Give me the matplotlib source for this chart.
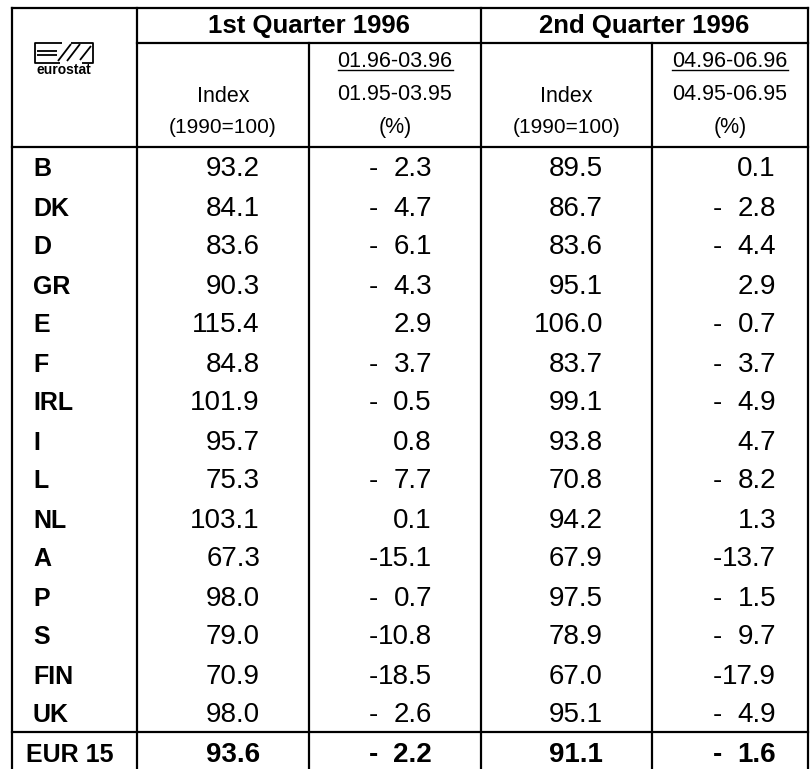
import matplotlib
matplotlib.use('Agg')
import matplotlib.pyplot as plt

plt.rcParams['font.family'] = ['Liberation Sans', 'DejaVu Sans']

# data
countries = ['B', 'DK', 'D', 'GR', 'E', 'F', 'IRL', 'I', 'L', 'NL', 'A', 'P', 'S', 'FIN', 'UK', 'EUR 15']
q1_index = [93.2, 84.1, 83.6, 90.3, 115.4, 84.8, 101.9, 95.7, 75.3, 103.1, 67.3, 98.0, 79.0, 70.9, 98.0, 93.6]
q1_change = [-2.3, -4.7, -6.1, -4.3, 2.9, -3.7, -0.5, 0.8, -7.7, 0.1, -15.1, -0.7, -10.8, -18.5, -2.6, -2.2]
q2_index = [89.5, 86.7, 83.6, 95.1, 106.0, 83.7, 99.1, 93.8, 70.8, 94.2, 67.9, 97.5, 78.9, 67.0, 95.1, 91.1]
q2_change = [0.1, -2.8, -4.4, 2.9, -0.7, -3.7, -4.9, 4.7, -8.2, 1.3, -13.7, -1.5, -9.7, -17.9, -4.9, -1.6]
quarters = ['1st Quarter 1996', '2nd Quarter 1996']
periods = [('01.96-03.96', '01.95-03.95'), ('04.96-06.96', '04.95-06.95')]

# layout (pixel units)
W, H = 811, 769
xs = [12, 137, 309, 481, 652, 808]
y_top, y_q, y_head, row_h = 8, 43, 147, 39
right_anchor = [260, 432, 603, 776]
col_center = [(xs[i + 1] + xs[i + 2]) / 2 for i in range(4)]
lw = 1.6

fig = plt.figure(figsize=(W / 100, H / 100), dpi=100)
ax = fig.add_axes([0, 0, 1, 1])
ax.set_xlim(0, W)
ax.set_ylim(H, 0)
ax.axis('off')

# grid lines
bottom = y_head + row_h * len(countries) + 5
ax.plot([xs[0], xs[-1]], [y_top, y_top], color='black', lw=lw)
ax.plot([xs[1], xs[-1]], [y_q, y_q], color='black', lw=lw)
ax.plot([xs[0], xs[-1]], [y_head, y_head], color='black', lw=lw)
y_total = y_head + row_h * (len(countries) - 1)
ax.plot([xs[0], xs[-1]], [y_total, y_total], color='black', lw=lw)
for x in [xs[0], xs[1], xs[3], xs[5]]:
    ax.plot([x, x], [y_top, bottom], color='black', lw=lw)
for x in [xs[2], xs[4]]:
    ax.plot([x, x], [y_q, bottom], color='black', lw=lw)

# eurostat logo
k = dict(color='black', lw=1.3, solid_capstyle='butt')
ax.plot([62, 35, 35, 60], [42.5, 42.5, 62.5, 62.5], **k)
ax.plot([37, 57], [50.5, 50.5], **k)
ax.plot([37, 57], [54.5, 54.5], **k)
ax.plot([58, 71], [61, 44], **k)
ax.plot([67, 80], [61, 44], **k)
ax.plot([71, 93, 93, 82], [42.5, 42.5, 62.5, 62.5], **k)
ax.plot([80, 91], [60, 46], **k)
ax.text(64, 74, 'eurostat', ha='center', va='baseline', fontsize=10, fontweight='bold')

# headers
renderer = fig.canvas.get_renderer()


def text_width(s, **kw):
    t = ax.text(0, 0, s, **kw)
    w = t.get_window_extent(renderer).width
    t.remove()
    return w


for qi, q in enumerate(quarters):
    cx = (xs[1 + 2 * qi] + xs[3 + 2 * qi]) / 2
    ax.text(cx, 33, q, ha='center', va='baseline', fontsize=18.5, fontweight='bold')
    ci = col_center[2 * qi]
    ax.text(ci, 102, 'Index', ha='center', va='baseline', fontsize=15.5)
    ax.text(ci, 133, '(1990=100)', ha='center', va='baseline', fontsize=15)
    cc = col_center[2 * qi + 1]
    top, base = periods[qi]
    ax.text(cc, 67, top, ha='center', va='baseline', fontsize=15.5)
    uw = text_width(top, fontsize=15.5)
    ax.plot([cc - uw / 2, cc + uw / 2], [70, 70], color='black', lw=1.0)
    ax.text(cc, 100, base, ha='center', va='baseline', fontsize=15.5)
    ax.text(cc, 133, '(%)', ha='center', va='baseline', fontsize=15.5)

# body
fs = 20
for i, name in enumerate(countries):
    is_total = i == len(countries) - 1
    fw = 'bold' if is_total else 'normal'
    yb = y_head + row_h * i + row_h / 2 + 10
    lx = 26 if is_total else 33
    ax.text(lx, yb, name, ha='left', va='baseline', fontsize=18, fontweight='bold')
    dw = text_width('00.0', fontsize=fs, fontweight=fw)
    vals = [q1_index[i], q1_change[i], q2_index[i], q2_change[i]]
    for j, v in enumerate(vals):
        xr = right_anchor[j]
        ax.text(xr, yb, f'{abs(v):.1f}', ha='right', va='baseline', fontsize=fs, fontweight=fw)
        if v < 0:
            ax.text(xr - dw, yb, '-', ha='right', va='baseline', fontsize=fs, fontweight=fw)

fig.savefig('out.png', dpi=100)
